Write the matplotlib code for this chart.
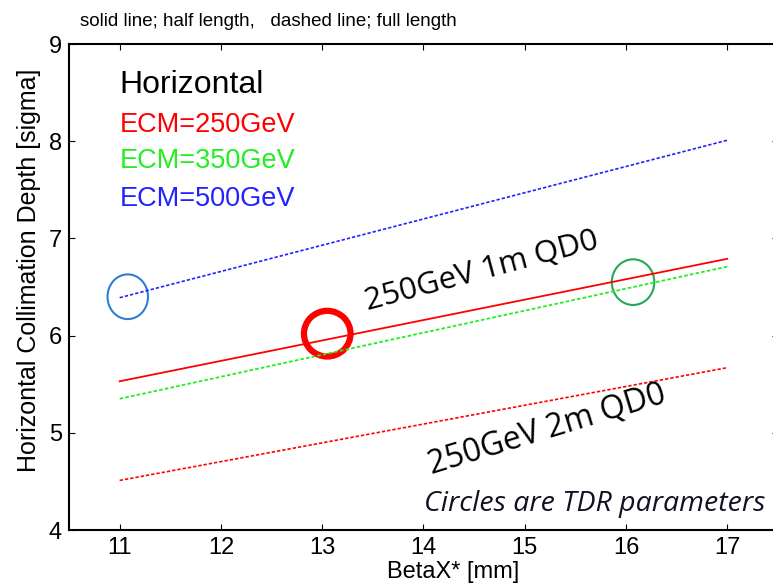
import matplotlib
matplotlib.use("Agg")
import matplotlib.pyplot as plt
from matplotlib.patches import Ellipse

plt.rcParams["font.family"] = ["Liberation Sans", "DejaVu Sans"]

# BetaX* end points [mm] and collimation depth [sigma]
beta_x = [11, 17]
depth_250_half = [5.53, 6.79]   # solid, 1m QD0
depth_350_full = [5.35, 6.71]
depth_500_full = [6.39, 8.01]
depth_250_full = [4.51, 5.67]   # dashed, 2m QD0

# TDR parameter circles: (beta, depth)
tdr_points = [(11.08, 6.40), (13.05, 6.02), (16.07, 6.55)]
tdr_colors = ["#2f7fd0", "red", "#22aa55"]

fig = plt.figure(figsize=(7.73, 5.83), dpi=100)
ax = fig.add_axes([0.0893, 0.0909, 0.917, 0.8336])

ax.plot(beta_x, depth_500_full, color="#2222ff", ls=(0, (2, 1.2)), lw=1.2)
ax.plot(beta_x, depth_250_half, color="red", lw=1.3)
ax.plot(beta_x, depth_350_full, color="#22ee22", ls=(0, (2, 1.2)), lw=1.3)
ax.plot(beta_x, depth_250_full, color="red", ls=(0, (2, 1.2)), lw=1.2)

# circles (sized in data units)
sizes = [(0.4, 0.46, 1.5), (0.46, 0.47, 4.5), (0.42, 0.47, 1.5)]
for (bx, d), c, (w, h, lw) in zip(tdr_points, tdr_colors, sizes):
    ax.add_patch(Ellipse((bx, d), w, h, fill=False, ec=c, lw=lw))

ax.set_xlim(10.5, 17.5)
ax.set_ylim(4, 9)
ax.set_xticks(range(11, 18))
ax.set_yticks(range(4, 10))
ax.tick_params(direction="in", length=4, labelsize=17, top=True, right=True,
               labeltop=False, pad=5)
for s in ax.spines.values():
    s.set_linewidth(1.5)

ax.set_xlabel("BetaX* [mm]", fontsize=17)
ax.set_ylabel("Horizontal Collimation Depth [sigma]", fontsize=18)
ax.xaxis.set_label_coords(0.542, -0.063)
ax.yaxis.set_label_coords(-0.040, 0.535)

fig.text(0.103, 0.963, "solid line; half length,   dashed line; full length",
         fontsize=13.5, va="center", ha="left")

ax.text(11.0, 8.58, "Horizontal", fontsize=23, va="center")
ax.text(11.0, 8.17, "ECM=250GeV", fontsize=19.5, color="red", va="center")
ax.text(11.0, 7.80, "ECM=350GeV", fontsize=19.5, color="#22ee22", va="center")
ax.text(11.0, 7.41, "ECM=500GeV", fontsize=19.5, color="#2222ff", va="center")

ax.text(14.58, 6.66, "250GeV 1m QD0", fontsize=22.5, rotation=15,
        ha="center", va="center", family="Open Sans")
ax.text(15.22, 5.03, "250GeV 2m QD0", fontsize=23, rotation=17,
        ha="center", va="center", family="Open Sans")
ax.text(17.38, 4.27, "Circles are TDR parameters", fontsize=20.5, style="italic",
        ha="right", va="center", color="#111122", family="Open Sans")

fig.savefig("out.png", dpi=100)
